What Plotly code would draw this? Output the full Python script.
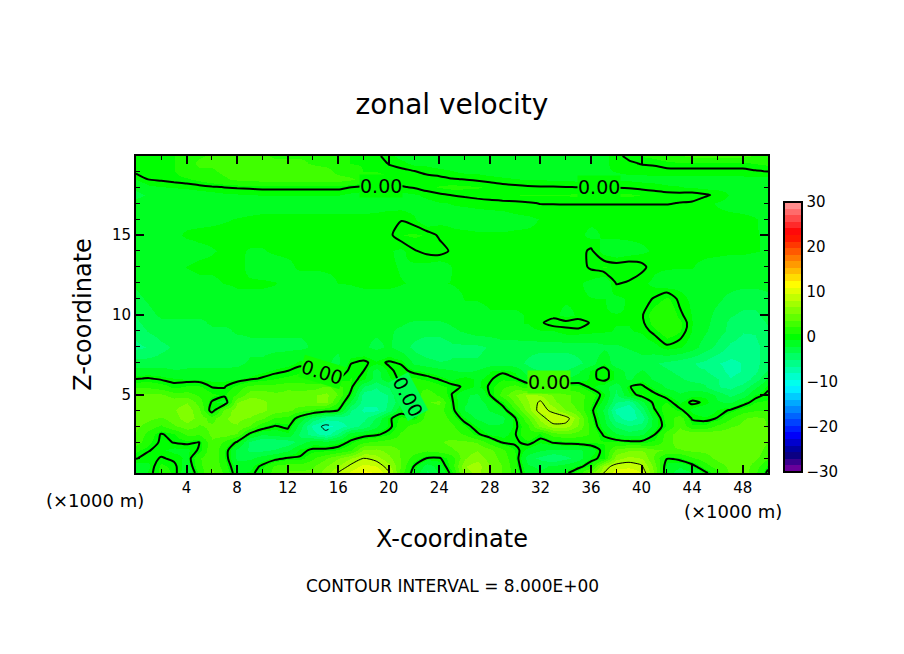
"""
zonal velocity, x-z section, filled field with contour lines on top
w_rows: one list per height level, values read off the picture (m/s)
"""

import numpy as np
import plotly.graph_objects as go

FONT = 'DejaVu Sans'

x_km = list(range(51))
z_km = [0.08, 0.5, 1, 1.5, 2, 2.5, 3, 3.5, 4, 4.5, 5, 5.5, 6, 6.5, 7, 8, 9, 9.5, 10, 11, 12, 13, 14, 15, 16,
        17, 17.5, 18, 18.5, 19, 19.5, 19.95]

w_rows = [
    [-1.5,-.6,1.2,.6,-2,1,4,2,-1,-.5, .8,3,4,4,4,6,8.2,10,11.5,11, 8.3,3,-1,-4,-2,.5,6,7,5,3.5, 1.5,-1.5,-2,-1.5,-.4,1.5,5,8,10.5,11, 9.5,5,-1.5,-3,-2.5,-.5,1.5,4,4.5,2.5, -.5],
    [-1.5,-.8,1,.4,-1.5,1.8,3.5,1.5,-1.5,-1.2, .4,2.5,3,3,3.5,5,6.5,8.5,10,9.5, 7,3.5,-.1,-3,-1.5,1.5,6.5,7.5,5,3.5, 1.2,-2,-2.5,-2,-1.5,-.6,1,7,8.8,9, 8.3,4.5,-1.2,-2,-.7,1.5,3,4,4.5,3, .5],
    [.1,-.6,.15,-.3,-1,2,3.5,1,-2.5,-2.5, -1.5,-.6,.2,.15,2,3.5,5,6.5,8,7.2, 5.5,3.5,1.5,-.1,-.2,1.5,5,6,4.5,3, 1,-3,-4,-5,-4,-3,-.6,.6,6,7, 6.5,3.5,.1,.6,2,3,4,4.5,4.5,4, 2.5],
    [1,.1,-.6,-1,-1,.2,3.5,1,-2.5,-4, -4,-3.5,-2.5,-.4,.3,.4,.8,2,5.5,5.5, 4.5,3.5,3,2.5,3,3.5,4.5,5,4,2.5, .6,-1.2,-2,-2.5,-2.5,-2.5,-1.5,.6,4,5, 5,4,3.5,3.5,4,4,4.5,5,5,4.5, 3],
    [3,1,-.3,.05,.3,-.05,3.5,2,-.3,-4, -5,-5,-4.5,-3,-1.2,-1.6,-1,.4,2,2.5, 3,3,3,3,3.5,4,4,3.5,1.5,-.1, -.3,.5,-.6,.1,.5,.7,1,.8,.9,.6, .5,1,3,4.5,5,4.5,4,4,4.5,5, 3.5],
    [3.5,1.5,-.15,.6,2.5,2.5,4,4.5,3.5,-.5, -2,-1.5,-1,-4,-6,-7.5,-5,-1.2,-.8,-.3, .6,2.5,3,3,3.5,3,2,.3,-1,-1.2, -.1,2,.6,3,3.5,3,2,-.2,-2,-3, -2.5,-.1,3,4.5,5,5,4.5,4.5,4.5,5, 4],
    [4,3,2,3.5,4.5,3.5,4,5,5,3.5, 1,-.2,.4,-3,-7,-8.5,-7.6,-6,-4.5,-2.5, -.5,1.5,3,3.5,3.5,2.5,.8,-.8,-2,-2, -.4,2,5.5,7.3,7.2,5,1.5,-1.5,-4,-5, -4.5,-1.5,1,3.5,1,1,2.5,3.5,4,4.5, 3.5],
    [4.5,4,3.5,4.5,6,4.5,3,5,5.5,5, 4,2,1.8,-1.2,-4,-6,-6,-6,-5.5,-3.5, -.3,1,.3,3,3.5,1.5,-.7,-2.5,-3.5,-2.5, -.15,3.5,7,9.3,9,5.5,1,-2,-6,-7.5, -6,-1.5,1.5,3,-.2,-.5,.1,2,3.5,4, 3.5],
    [5,5,5,5,6,4,-1,4,6,6, 5.5,4.5,4,3,2,1,-.05,-5,-7,-7, -4.5,-.7,-1,2.5,3,.6,-2.4,-3.5,-2,-1, 2,6,8.8,7.5,5,3.5,.5,-2.5,-7,-8, -4.5,-.2,1.5,.4,-1,-2,-.7,.2,1.5,2, 2],
    [5,5,5,4.5,5,3,-.2,-1.5,5,6.5, 5.5,4.5,4,4.5,5,5.5,2,-2.5,-6,-6, -5,-2.5,.6,3.5,4,.2,-2,-3,-1.5,.7, 4,6.5,8.4,5.5,4,3,1,-1.2,-5,-6, -2.5,.5,.7,-.9,.3,-.2,-2,-2.5,-.8,.7, 1],
    [4,4,4,3,3,2,1,.5,2.5,4.5, 4.5,4,4,4.5,5,5.5,3.5,-.5,-6,-6, -5,-1,1.5,3,2,-.05,-2,-2.5,.05,3, 5,7,6.5,5,4,3,1.5,-.6,-4,-1, .8,.3,-.7,-2,-1,-1,-2.5,-4,-3,-.7, .3],
    [2,2,1.5,.5,1,1,-.1,-.1,1.2,3, 3,3,3.5,3,3,4,3,.6,-4,-5, -3.5,.05,2,2,1.2,.4,-.2,-1,.2,2, 3,1.5,1.5,1.5,1.2,1.2,-.5,-1.5,-3.5,-.05, .3,-1,-2.5,-3,-3,-3.5,-5,-5.5,-4.5,-2.5, -.3],
    [-.1,.1,-.3,-.6,-.8,-.8,-1,-1,-.8,-.4, .2,.8,1.2,1.5,1.2,.6,.05,.8,-.6,-3, -1,.5,1,.5,-.2,-1,-.05,-1,-.2,.6, .1,-2,-2,-2,-2,-1.5,-.5,.6,-1,-2.5, -1,-2.5,-3,-3.5,-4,-4,-5,-6.5,-6,-4.5, -2],
    [-1.5,-1.5,-1.5,-2,-2,-2,-2,-2,-1.8,-1.5, -1,-.5,-.05,.5,-.3,-1,-1.5,.5,.05,-3, -.3,.5,-.5,-1,-1.5,-2,-2.5,-2,-.8,-.3, -1,-3,-3.5,-3.5,-3.5,-2.5,-.5,.6,-1,-3, -2,-3,-3.5,-4,-5,-5,-6,-7,-6.5,-5.5, -3.5],
    [-3,-3,-3,-3,-2.5,-2.5,-2.5,-2.5,-2.5,-2, -2,-1.5,-1.2,-.4,-1,-2,-2.5,-.1,.3,-.5, .2,-.2,-2.5,-3,-3.5,-3.5,-3.5,-3.5,-3,-3, -3,-4,-5,-5,-5,-4,-3,-.8,-3.5,-3.5, -3,-3.5,-4,-4.5,-5,-5.5,-6.5,-7,-6.5,-5.5, -4.5],
    [-5.5,-5,-4,-3.5,-3,-3,-3,-3,-3,-2.5, -2.5,-2.5,-2.5,-2.5,-2,-2,-2,-2,-2,-2.5, -2,-3,-4,-5,-5,-4,-4,-4,-3.5,-3, -3,-3,-3,-3,-3,-3,-3,-2.5,-2.5,-2, -1.5,-1.2,-.2,-.6,-1.5,-3,-4,-5.5,-6,-5.5, -4.5],
    [-4.5,-3.5,-3,-3,-3,-3,-2.5,-2.5,-2,-2, -2,-2,-2,-2,-2,-2,-2,-2,-2,-2, -2,-2.5,-3,-3,-3,-2.5,-2,-1.5,-1.5,-1.2, -1.2,-1,-.8,-.8,-.2,-.2,-.4,-.6,-.8,-.8, -.6,.4,1.5,.8,-.8,-2,-3,-4,-5,-5, -4],
    [-4,-3,-2.5,-2.5,-2.5,-2.5,-2,-2,-2,-2, -2,-2,-2,-2,-2,-2,-2,-2,-2,-2, -2,-2,-2.5,-2.5,-2.5,-2,-1.5,-1.2,-1,-1, -.8,-.7,-.2,.6,.3,.5,-.1,-.6,-.7,-.7, -.3,1.2,1.8,1,-.7,-1.8,-2.8,-4,-4.5,-4.5, -3.5],
    [-3.5,-2.5,-2,-2,-2,-2,-2,-2,-2,-2, -2,-2,-2,-2,-2,-2,-2,-1.5,-1.5,-1.5, -1.5,-1.5,-1.5,-1.5,-1.5,-1.2,-1,-1,-.8,-.8, -.8,-.7,-.6,-.5,-1,-.6,-.7,-.7,-.7,-.7, -.2,1.5,2,.3,-.8,-1.8,-2.5,-3.5,-4,-4, -3],
    [-2.5,-2,-1.5,-1.5,-1.5,-1.5,-1.5,-1.5,-1,-1, -1,-1,-1.5,-2,-2,-2,-1.5,-1,-1,-1, -1,-1,-1,-1,-1,-1,-.7,-.7,-.6,-.6, -.6,-.6,-.6,-.6,-.6,-.6,-.7,-.7,-1,-.6, -.5,.1,1,-.3,-1,-1.8,-2,-2.5,-3,-3, -2.5],
    [-2,-1.5,-1.5,-1.5,-1.2,-1,-1,-.7,-.6,-.6, -.6,-.7,-1,-1.5,-1.7,-1.2,-.7,-.7,-.6,-.6, -.6,-.7,-.8,-.8,-.8,-.7,-.6,-.5,-.5,-.5, -.5,-.5,-.5,-.5,-.5,-.6,-1,-1.8,.1,-.1, -.5,-1,-1.5,-1.2,-1.2,-1.8,-1.8,-1.8,-1.8,-1.8, -1.8],
    [-1.5,-1.5,-1.2,-1,-.7,-.5,-.5,-.3,-.4,-1, -1.2,-1.2,-1,-.5,-.5,-.5,-.5,-.5,-.5,-.5, -.6,-.8,-1,-1.1,-1.5,-.7,-.6,-.5,-.5,-.5, -.5,-.5,-.5,-.5,-.5,-.5,.2,.8,.5,.6, .3,-.5,-.6,-.7,-.7,-1,-1.2,-1.2,-1.2,-1.2, -1.2],
    [-1.5,-1.5,-1.2,-1.2,-1.2,-1,-.8,-.6,-.6,-.8, -.8,-.6,-.5,-.5,-.5,-.5,-.5,-.5,-.5,-.5, -.6,-1,-.1,.3,.5,-.2,-.5,-.5,-.5,-.5, -.5,-.5,-.5,-.5,-.5,-.4,.2,-1.2,-1.5,-1.2, -.9,-.6,-.5,-.5,-.5,-.5,-.5,-.6,-.6,-.7, -.8],
    [-1.2,-1.2,-1,-.9,-.6,-.5,-.5,-.5,-.5,-.5, -.5,-.5,-.5,-.4,-.4,-.4,-.4,-.4,-.4,-.4, -.3,.7,.9,.6,-.2,-.5,-.5,-.6,-.6,-.6, -.6,-.6,-.6,-.6,-.5,-.5,-1,-.6,-.5,-.5, -.5,-.5,-.5,-.5,-.5,-.6,-.6,-.6,-.7,-.7, -.8],
    [-1,-1,-1,-1,-1,-1,-.9,-.8,-.7,-.6, -.5,-.5,-.5,-.5,-.5,-.5,-.5,-.5,-.5,-.4, -.2,-.1,-.6,-1.8,-1,-1,-1.2,-1.2,-1.2,-1.2, -1,-.9,-.7,-.6,-.5,-.5,-.5,-.5,-.5,-.5, -.5,-.5,-.5,-.5,-.5,-.5,-.5,-.5,-.6,-.7, -.9],
    [-1.5,-1.5,-1.5,-1.5,-1.5,-1.5,-1.5,-1.5,-1.2,-1.2, -1.2,-1.2,-1.2,-1.2,-1.2,-1.2,-1.2,-1.2,-1.2,-1.2, -1.2,-1.2,-1.2,-1,-.8,-.7,-.6,-.5,-.4,-.3, -.2,-.1,.05,.05,.05,.05,.05,.05,.05,.05, .05,.05,.05,-.02,-.1,-.5,-.8,-1,-1,-1, -1],
    [-2.7,-1.94,-1.78,-1.64,-1.5,-1.32,-1.14,-.96,-.86,-.78, -.7,-.7,-.7,-.7,-.7,-.7,-.7,-1,-1.2,-1.2, -1.2,-1.1,-.88,-.5,-.2,.02,.2,.4,.6,.7, .7,.8,.8,.8,.8,.9,.9,.9,.9,.9, .7,.54,.36,.3,.4,.15,-.2,-.8,-.8,-.8, -.9],
    [-1.7,-.94,-.78,-.64,-.5,-.32,-.14,.04,.14,.22, .3,.3,.3,.3,.3,.3,.3,.02,-.2,-.2, -.2,-.1,.12,.5,.8,1,.9,.8,.6,.4, .24,.14,.08,.06,.02,-.02,-.04,-.06,-.08,-.14, -.3,-.46,-.64,-.7,-.8,-1,-1,-1,-1,-1, -1],
    [-.7,.06,.2,.4,.6,1,1.5,2,2.5,2.5, 3,3,3,3,3,3,3,2.5,1.5,1.2, .8,.7,.6,.4,.3,.05,-.03,-.2,-.4,-.6, -.7,-.8,-.8,-.9,-.9,-1,-1,-1,-.9,-.9, -1,-1,-1,-1,-1,-1,-1,-1,-1,-1, -1],
    [.3,.5,.6,.7,1.5,2,2,2.5,2.5,3, 3,3,3,3,3,3,1.5,1,.7,.7, .5,.3,.02,-.3,-.5,-.7,-1,-1,-1.2,-1.2, -1.2,-1.2,-1.2,-1.2,-1.2,-1,-1,-.8,-.7,-.6, -.5,-.4,-.3,-.3,-.3,-.3,-.3,-.3,-.3,-.1, .05],
    [.6,.6,.7,.7,1.5,2.5,2.5,2.5,2.5,2.5, 2.5,2.5,2.5,2.5,2,1.5,1,.7,.7,.7, -.1,-.5,-1,-1,-1.2,-1.2,-1.2,-1.2,-1.2,-1.2, -1.2,-1.2,-1.2,-1.2,-1.2,-1.2,-1,-.8,-.6,-.2, .1,.2,.5,.6,.6,.6,.6,.6,.6,.8, 1],
    [.6,.6,.7,.7,1.5,2,2.5,2.5,2.5,2.5, 2.5,2,2,2,2,1.5,1,.7,.7,.3, -.5,-1,-1,-1,-1,-1,-1,-1.2,-1.2,-1.2, -1.2,-1.2,-1.2,-1.2,-1.2,-1.2,-1.2,-1,-.3,.3, .8,1,1.5,2,2.5,2.5,2.5,2.5,2.5,2, 1.5],
]

x_ticks = [4, 8, 12, 16, 20, 24, 28, 32, 36, 40, 44, 48]
x_minor = [2, 6, 10, 14, 18, 22, 26, 30, 34, 38, 42, 46, 50]
z_ticks = [5, 10, 15]
z_minor = [1, 2, 3, 4, 6, 7, 8, 9, 11, 12, 13, 14, 16, 17, 18, 19]
cbar_ticks = [-30, -20, -10, 0, 10, 20, 30]

# colour bar anchors, red end fades into pink, blue end into purple
key_vals = [-30, -26, -21.8, -11, 0, 11.6, 23, 30]
key_rgb = [(128, 0, 160), (0, 0, 128), (0, 0, 255), (0, 255, 255), (0, 255, 0), (255, 255, 0), (255, 0, 0), (255, 156, 156)]

# (x, z, angle, background) of the "0.00" labels
label_x = [19.4, 36.6, 14.7, 32.7, 21.55]
label_z = [18.06, 18.0, 6.39, 5.76, 4.86]
label_angle = [0, 0, 17, 0, 62]
label_bg = ['#00ff00', '#00ff00', '#10ff00', '#40ff00', '#00ff50']


def stepped_colorscale(n_bands=41):
    edges = np.linspace(-30, 30, n_bands + 1)
    mids = (edges[:-1] + edges[1:]) / 2
    channels = np.array(key_rgb, dtype=float)
    scale = []
    for i, mid in enumerate(mids):
        rgb = [int(round(np.interp(mid, key_vals, channels[:, c]))) for c in range(3)]
        color = f'rgb({rgb[0]},{rgb[1]},{rgb[2]})'
        scale.append([(edges[i] + 30) / 60, color])
        scale.append([(edges[i + 1] + 30) / 60, color])
    return scale


def contour_line(w, level, width, dash='solid'):
    return go.Contour(
        x=x_km, y=z_km, z=w,
        autocontour=False,
        contours=dict(type='levels', start=level, end=level, size=1, coloring='none', showlabels=False),
        line=dict(color='black', width=width, dash=dash, smoothing=0.7),
        showscale=False, hoverinfo='skip',
    )


def main():
    w = np.array(w_rows, dtype=float)

    fig = go.Figure()
    fig.add_trace(go.Heatmap(
        x=x_km, y=z_km, z=w, zmin=-30, zmax=30, zsmooth='best',
        colorscale=stepped_colorscale(),
        colorbar=dict(
            x=784 / 904, xanchor='left', xpad=0,
            y=(654 - 472) / 654, yanchor='bottom', ypad=0,
            len=270, lenmode='pixels', thickness=18, thicknessmode='pixels',
            tickvals=cbar_ticks, ticks='', outlinecolor='black', outlinewidth=2,
            tickfont=dict(family=FONT, size=15, color='black'),
        ),
    ))
    fig.add_trace(contour_line(w, 0, 2))
    fig.add_trace(contour_line(w, 8, 1))
    fig.add_trace(contour_line(w, -8, 1, dash='dash'))

    axis_style = dict(
        showline=True, linecolor='black', linewidth=2, mirror='ticks', showgrid=False, zeroline=False,
        ticks='inside', ticklen=8, tickwidth=2, tickcolor='black',
        tickfont=dict(family=FONT, size=15, color='black'),
    )
    fig.update_xaxes(
        range=[0, 50], domain=[136 / 904, 768 / 904], tickmode='array', tickvals=x_ticks,
        minor=dict(tickmode='array', tickvals=x_minor, ticks='inside', ticklen=4, tickwidth=1, tickcolor='black'),
        title=dict(text='X-coordinate', standoff=34, font=dict(family=FONT, size=24, color='black')),
        **axis_style,
    )
    fig.update_yaxes(
        range=[0.08, 19.95], domain=[(654 - 473) / 654, (654 - 156) / 654], tickmode='array', tickvals=z_ticks,
        minor=dict(tickmode='array', tickvals=z_minor, ticks='inside', ticklen=4, tickwidth=1, tickcolor='black'),
        title=dict(text='Z-coordinate', standoff=14, font=dict(family=FONT, size=24, color='black')),
        **axis_style,
    )

    for lx, lz, ang, bg in zip(label_x, label_z, label_angle, label_bg):
        fig.add_annotation(x=lx, y=lz, text='0.00', showarrow=False, textangle=ang, bgcolor=bg, borderpad=0,
                           font=dict(family=FONT, size=19, color='black'))

    def paper_text(px, py, text, size):
        fig.add_annotation(xref='paper', yref='paper', x=px / 904, y=1 - py / 654, text=text,
                           showarrow=False, xanchor='center', yanchor='middle',
                           font=dict(family=FONT, size=size, color='black'))

    paper_text(95, 500, '(×1000 m)', 18)
    paper_text(733, 511, '(×1000 m)', 18)
    paper_text(452, 586, 'CONTOUR INTERVAL = 8.000E+00', 17)

    fig.update_layout(
        width=904, height=654, margin=dict(l=0, r=0, t=0, b=0),
        paper_bgcolor='white', plot_bgcolor='white', showlegend=False,
        title=dict(text='zonal velocity', x=452 / 904, y=1 - 104 / 654, xanchor='center', yanchor='middle',
                   font=dict(family=FONT, size=28, color='black')),
    )

    fig.write_html('out.html', config={'displayModeBar': False}, post_script="document.body.style.margin='0';")


if __name__ == '__main__':
    main()
